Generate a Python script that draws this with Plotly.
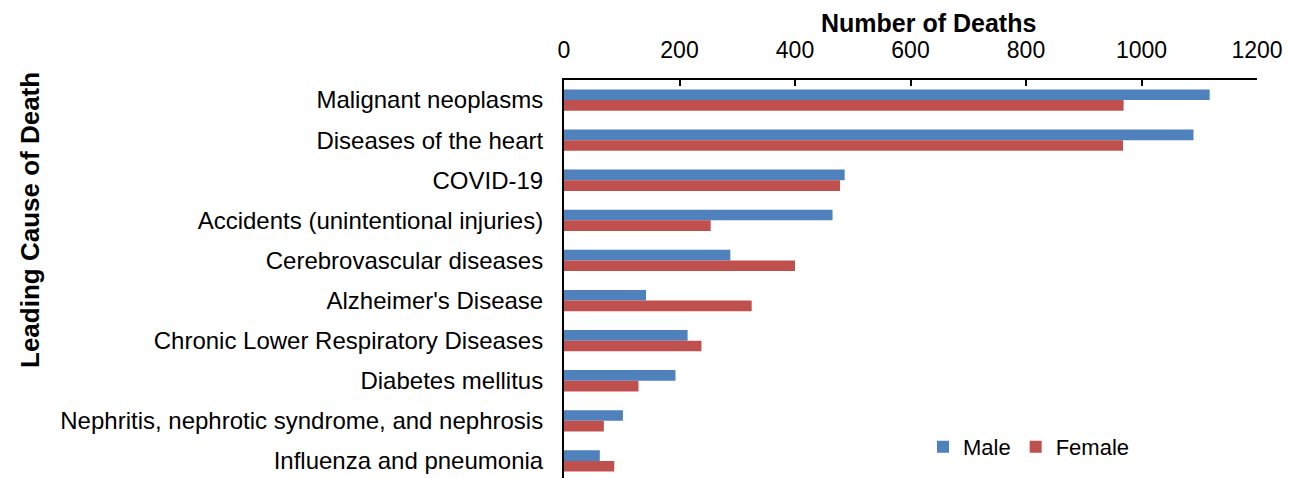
import plotly.graph_objects as go

causes = [
    "Malignant neoplasms",
    "Diseases of the heart",
    "COVID-19",
    "Accidents (unintentional injuries)",
    "Cerebrovascular diseases",
    "Alzheimer's Disease",
    "Chronic Lower Respiratory Diseases",
    "Diabetes mellitus",
    "Nephritis, nephrotic syndrome, and nephrosis",
    "Influenza and pneumonia",
]
male = [1118, 1090, 486, 465, 288, 142, 214, 193, 102, 62]
female = [969, 968, 478, 254, 400, 325, 238, 129, 69, 87]
x_ticks = [0, 200, 400, 600, 800, 1000, 1200]

FONT = "Liberation Sans, Arial, sans-serif"

fig = go.Figure()
fig.add_trace(go.Bar(y=causes, x=male, name="Male", orientation="h",
                     marker=dict(color="#4F81BD", line=dict(width=0))))
fig.add_trace(go.Bar(y=causes, x=female, name="Female", orientation="h",
                     marker=dict(color="#C0504D", line=dict(width=0))))

fig.update_layout(
    width=1297, height=478,
    margin=dict(l=556, r=48, t=72, b=8),
    paper_bgcolor="white", plot_bgcolor="white",
    barmode="group", bargap=0.47, bargroupgap=0,
    font=dict(family=FONT, size=23, color="black"),
    showlegend=True,
    legend=dict(orientation="h", x=0.518, y=0.078, xanchor="left", yanchor="middle",
                font=dict(size=22), bgcolor="rgba(0,0,0,0)", itemwidth=30,
                tracegroupgap=0),
    xaxis=dict(
        side="top", range=[0, 1200], tickvals=x_ticks, ticktext=[str(v) for v in x_ticks],
        showgrid=False, zeroline=False, showline=True, linecolor="black", linewidth=2,
        ticks="inside", ticklen=6, tickwidth=1.5, tickcolor="black",
        ticklabelstandoff=11, tickfont=dict(size=23),
    ),
    yaxis=dict(
        categoryorder="array", categoryarray=causes,
        range=[9.5 - 3 / 40.1, -0.5],
        showgrid=False, zeroline=False, showline=True, linecolor="black", linewidth=2,
        ticks="", ticklabelstandoff=14, tickfont=dict(size=24),
    ),
    annotations=[
        dict(text="<b>Number of Deaths</b>", xref="paper", yref="paper",
             x=(928 - 564) / 693, y=1 + 72 / 398, xanchor="center", yanchor="top",
             showarrow=False, font=dict(size=25, family=FONT), borderpad=0),
        dict(text="<b>Leading Cause of Death</b>", xref="paper", yref="paper",
             x=(30 - 564) / 693, y=(478 - 220) / 398, xanchor="center", yanchor="middle",
             textangle=-90, showarrow=False, font=dict(size=26, family=FONT)),
    ],
)

fig.write_html("out.html")
